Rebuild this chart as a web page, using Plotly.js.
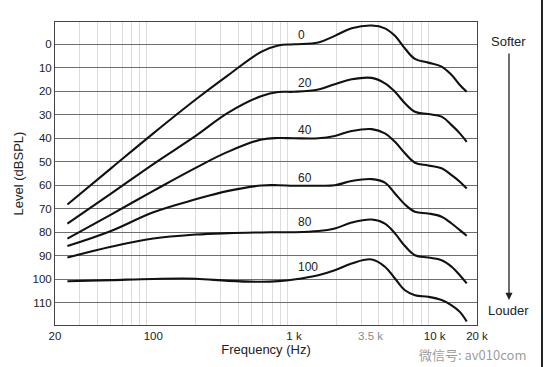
<!DOCTYPE html>
<html>
<head>
<meta charset="utf-8">
<script src="https://cdn.plot.ly/plotly-3.0.1.min.js"></script>
<style>
  html, body { margin: 0; padding: 0; background: #fff; }
  #chart { width: 544px; height: 367px; }
</style>
</head>
<body>
<div id="chart"></div>
<script>
// Frequency grid (Hz) shared by all contours
const freqHz = [24.5, 50, 100, 200, 341, 589, 773, 1000, 1490, 1950, 2570, 3570, 4430, 5220, 6150, 7240, 9000, 11200, 13200, 15100, 16900];

// Equal-loudness contours, level in dB SPL
const phon0   = [68.2, 52.8, 37.9, 23.5, 13.1, 3.1, 0.5, 0, -0.8, -3.6, -6.8, -8, -6.8, -3.6, 1.8, 6.2, 7.8, 9.5, 13.1, 17.3, 20.2];
const phon20  = [76.3, 63.6, 51, 39, 29.1, 22, 20.3, 20.2, 19.2, 17, 14.9, 14.3, 16.6, 20.2, 25.1, 28.7, 29.7, 30.8, 34.4, 37.9, 41.5];
const phon40  = [82.7, 72.5, 62.4, 52.6, 45.7, 40.5, 39.9, 40, 40, 39, 36.9, 36.1, 37.9, 41.5, 46.4, 50.4, 51.6, 52.8, 55.7, 58.5, 61.4];
const phon60  = [85.9, 79.5, 71.5, 66, 62.4, 60.1, 60, 60.2, 60.2, 60, 58.2, 57.4, 58.9, 63.5, 68.2, 71.3, 72, 73.4, 76.3, 79.1, 81.5];
const phon80  = [90.8, 86.2, 82.7, 81, 80.4, 80.1, 80, 80, 79.5, 78.4, 75.9, 74.6, 76.3, 80.5, 85.9, 89.8, 90.8, 91.9, 94.7, 98.3, 101.8];
const phon100 = [100.9, 100.4, 99.9, 99.8, 100.7, 101.1, 100.8, 100.1, 98.3, 96.2, 93.3, 91.6, 94.7, 99.7, 104.7, 106.8, 107.5, 108.9, 111.1, 113.9, 118];

const contourLabels = ["0", "20", "40", "60", "80", "100"];
const contours = [phon0, phon20, phon40, phon60, phon80, phon100];

// Axis ticks
const xTickVals = [20, 100, 1000, 3500, 10000, 20000];
const xTickText = ["20", "100", "1 k", "<span style='color:#8a8a8a'>3.5 k</span>", "10 k", "20 k"];
const yTickVals = [0, 10, 20, 30, 40, 50, 60, 70, 80, 90, 100, 110];
const majorGridHz = [100, 1000, 10000];
const minorGridHz = [30, 40, 50, 60, 70, 80, 90, 200, 300, 400, 500, 600, 700, 800, 900,
                     2000, 3000, 4000, 5000, 6000, 7000, 8000, 9000];

// Label anchor points for each contour (Hz, dB)
const labelHz = [1140, 1200, 1200, 1200, 1200, 1260];
const labelDb = [-4, 16.6, 36.5, 56.9, 75.6, 95];

const FONT = "Liberation Sans, Arial, sans-serif";

const traces = contours.map((c, i) => ({
  x: freqHz, y: c, type: "scatter", mode: "lines",
  line: { color: "#111", width: 2.1, shape: "spline", smoothing: 1.1 },
  hoverinfo: "skip", showlegend: false
}));

const shapes = majorGridHz.map(f => ({
  type: "line", xref: "x", yref: "paper",
  x0: Math.log10(f), x1: Math.log10(f), y0: 0, y1: 1,
  line: { color: "#a0a0a0", width: 1 }, layer: "below"
}));
// picture frame line at right
shapes.push({ type: "line", xref: "paper", yref: "paper", x0: 1.154, x1: 1.154, y0: -0.14, y1: 1.08,
  line: { color: "#222", width: 2 } });

const annotations = contourLabels.map((t, i) => ({
  x: Math.log10(labelHz[i]), y: labelDb[i], xref: "x", yref: "y",
  text: t, showarrow: false, xanchor: "center", yanchor: "middle",
  font: { family: FONT, size: 12, color: "#222" }
}));
annotations.push(
  { xref: "paper", yref: "paper", x: 1.0758, y: 0.934, text: "Softer", showarrow: false,
    xanchor: "center", yanchor: "middle", font: { family: FONT, size: 13, color: "#222" } },
  { xref: "paper", yref: "paper", x: 1.0758, y: 0.0495, text: "Louder", showarrow: false,
    xanchor: "center", yanchor: "middle", font: { family: FONT, size: 13, color: "#222" } },
  { xref: "paper", yref: "paper", x: 1.0758, y: 0.0825, text: "", showarrow: true,
    ax: 0, ay: -248, arrowhead: 2, arrowsize: 1.1, arrowwidth: 1.3, arrowcolor: "#222" },
  { xref: "paper", yref: "paper", x: 0.99, y: -0.098, text: "微信号: av010com", showarrow: false,
    xanchor: "center", yanchor: "middle",
    font: { family: "Noto Sans CJK SC, sans-serif", size: 13, color: "rgba(110,110,110,0.7)" } }
);

const layout = {
  width: 544, height: 367,
  margin: { l: 55, r: 67, t: 22, b: 42 },
  paper_bgcolor: "#fff", plot_bgcolor: "#fff",
  font: { family: FONT, size: 11.5, color: "#222" },
  xaxis: {
    type: "log", range: [Math.log10(20), Math.log10(20000)],
    tickmode: "array", tickvals: xTickVals, ticktext: xTickText,
    showgrid: false, zeroline: false, ticks: "",
    showline: true, mirror: true, linecolor: "#444", linewidth: 1,
    minor: { tickmode: "array", tickvals: minorGridHz, showgrid: true, gridcolor: "#dcdcdc", gridwidth: 1, ticks: "" },
    title: { text: "Frequency (Hz)", font: { size: 13, color: "#222" }, standoff: 4 }
  },
  yaxis: {
    range: [119.5, -9.5], tickmode: "array", tickvals: yTickVals,
    showgrid: true, gridcolor: "#6e6e6e", gridwidth: 1, zeroline: false, ticks: "",
    showline: true, mirror: true, linecolor: "#444", linewidth: 1,
    title: { text: "Level (dBSPL)", font: { size: 13, color: "#222" }, standoff: 5 }
  },
  shapes: shapes,
  annotations: annotations
};

Plotly.newPlot("chart", traces, layout, { staticPlot: true, displayModeBar: false });
</script>
</body>
</html>
